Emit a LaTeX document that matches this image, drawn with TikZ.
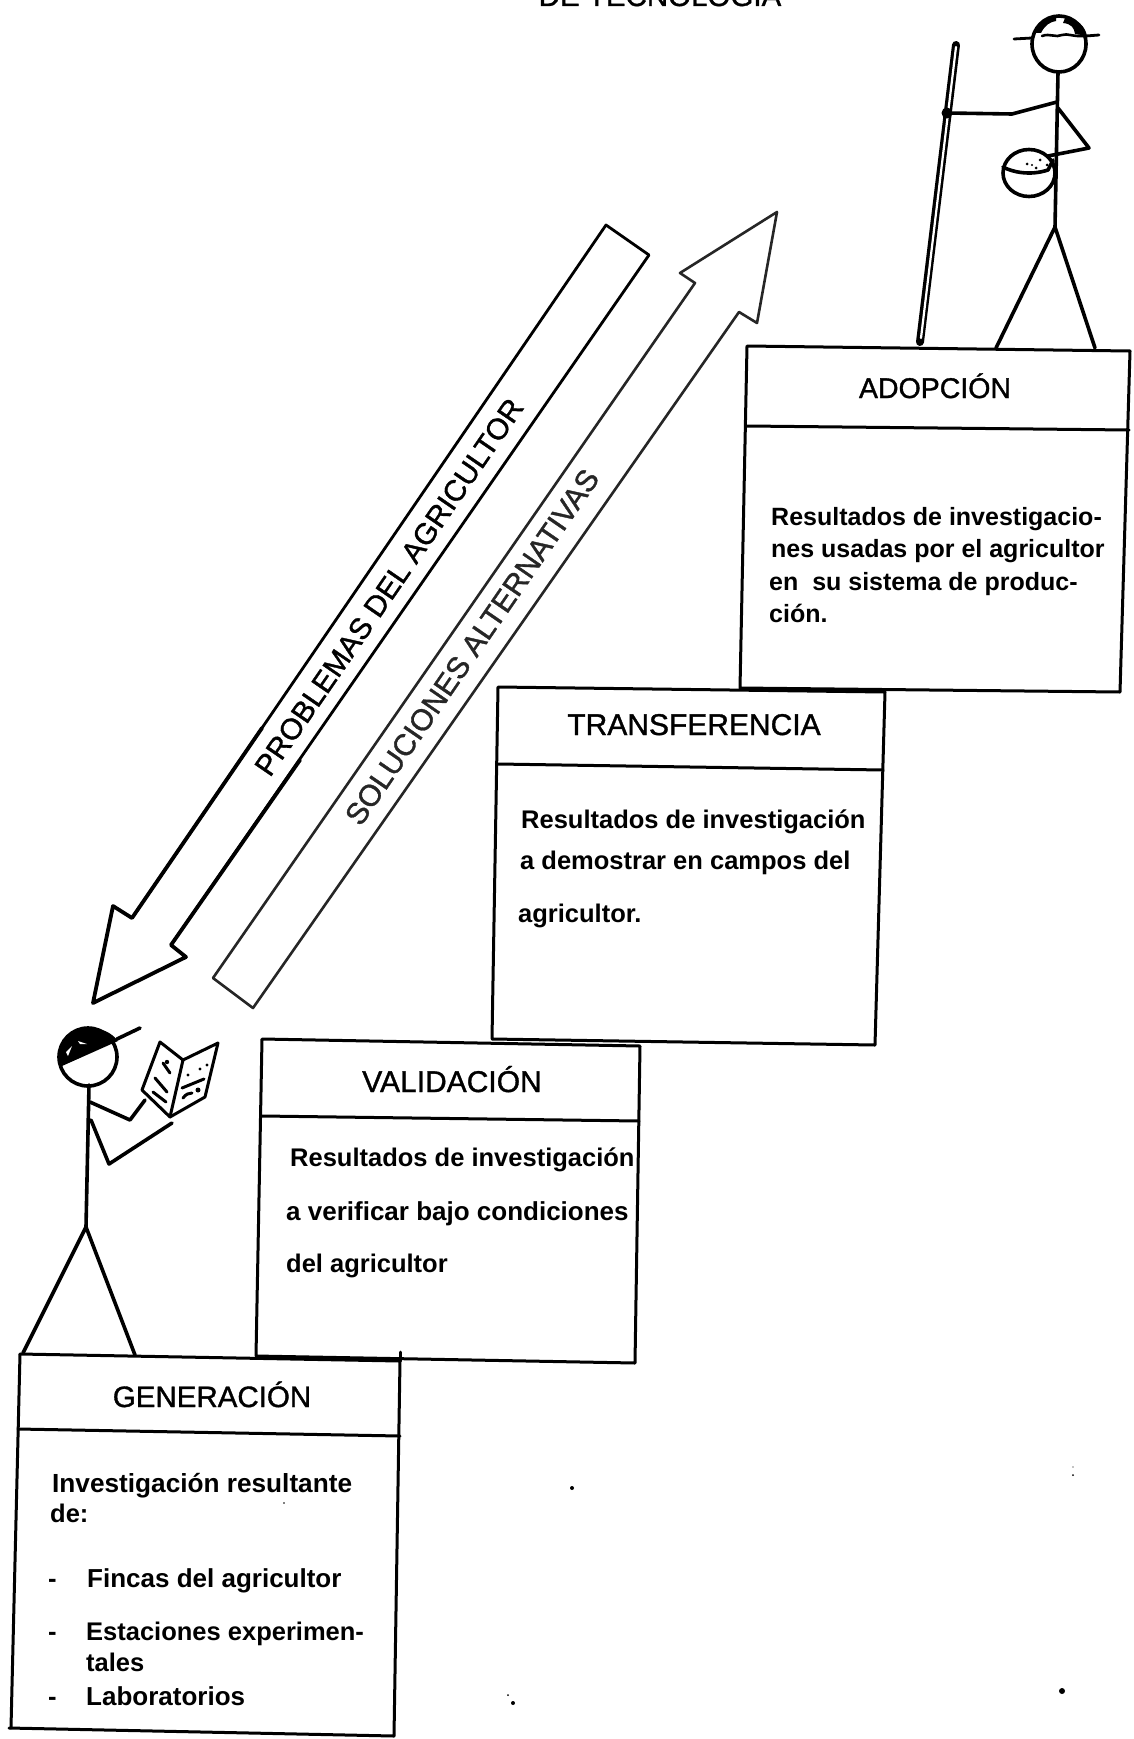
\documentclass[tikz,border=0pt]{standalone}
\usepackage{fontspec}
\setmainfont{Liberation Sans}
\newfontfamily\ttlfont[FakeBold=1.2]{Liberation Sans}
\tikzset{
  boxline/.style={line width=3pt,line join=round,line cap=round,black},
  figline/.style={line width=3.6pt,line join=round,line cap=round,black},
  arrowblack/.style={line width=3.8pt,line join=round,line cap=round,black},
  arrowshaft/.style={line width=2.8pt,line join=round,line cap=round,black},
  arrowgray/.style={line width=2.6pt,line join=round,line cap=round,black!85},
  ttl/.style={inner sep=0pt,anchor=base,font=\ttlfont\fontsize{#1}{30}\selectfont},
  txt/.style={inner sep=0pt,anchor=base west,font=\bfseries\fontsize{25.5}{28}\selectfont},
  slanted label/.style={inner sep=0pt,anchor=center,rotate=55.5,font=\ttlfont\fontsize{#1}{30}\selectfont},
}
\begin{document}
\begin{tikzpicture}[x=1pt,y=-1pt]
\useasboundingbox (0,0) rectangle (1134,1739);
\fill[white] (0,0) rectangle (1134,1739);

% cut-off heading
\node[ttl=29.5] (heading) at (660,6) {DE TECNOLOGIA};

% ADOPCION box
\draw[boxline] (747,346) -- (1130,351) -- (1120,692) -- (740,688) -- cycle;
\draw[boxline] (747,426) -- (1129,430);
\node[ttl=28.5] (adoptitle) at (935,398) {ADOPCIÓN};
\node[txt,font=\bfseries\fontsize{25}{28}\selectfont] (ad1) at (771,525) {Resultados de investigacio-};
\node[txt,font=\bfseries\fontsize{25}{28}\selectfont] (ad2) at (771,557) {nes usadas por el agricultor};
\node[txt,font=\bfseries\fontsize{25}{28}\selectfont] (ad3) at (769,590) {en\ \ su sistema de produc-};
\node[txt,font=\bfseries\fontsize{25}{28}\selectfont] (ad4) at (769,622) {ción.};

% TRANSFERENCIA box
\draw[boxline] (498,687) -- (885,692) -- (875,1045) -- (492,1039) -- cycle;
\draw[boxline] (498,764) -- (883,770);
\node[ttl=30] (trantitle) at (694,735) {TRANSFERENCIA};
\node[txt] (tr1) at (521,828) {Resultados de investigación};
\node[txt] (tr2) at (520,869) {a demostrar en campos del};
\node[txt] (tr3) at (518,922) {agricultor.};

% VALIDACION box
\draw[boxline] (262,1039) -- (640,1046) -- (635,1363) -- (256,1356) -- cycle;
\draw[boxline] (262,1116) -- (639,1121);
\node[ttl=30] (valtitle) at (452,1092) {VALIDACIÓN};
\node[txt] (va1) at (290,1166) {Resultados de investigación};
\node[txt,font=\bfseries\fontsize{26}{28}\selectfont] (va2) at (286,1220) {a verificar bajo condiciones};
\node[txt] (va3) at (286,1272) {del agricultor};

% GENERACION box
\draw[boxline] (20,1354) -- (400,1361) -- (394,1736) -- (9,1728);
\draw[boxline] (20,1354) -- (11,1728);
\draw[boxline] (400,1352) -- (400,1361);
\draw[boxline] (18,1429) -- (400,1436);
\node[ttl=29.5] (gentitle) at (212,1407) {GENERACIÓN};
\node[txt,font=\bfseries\fontsize{26.2}{28}\selectfont] (ge1) at (52,1492) {Investigación resultante};
\node[txt] (ge2) at (50,1522) {de:};
\node[txt] (gd1) at (48,1587) {-};
\node[txt,font=\bfseries\fontsize{26}{28}\selectfont] (ge3) at (87,1587) {Fincas del agricultor};
\node[txt] (gd2) at (48,1640) {-};
\node[txt] (ge4) at (86,1640) {Estaciones experimen-};
\node[txt] (ge5) at (86,1671) {tales};
\node[txt] (gd3) at (48,1705) {-};
\node[txt,font=\bfseries\fontsize{26}{28}\selectfont] (ge6) at (86,1705) {Laboratorios};

% problem arrow (down to the researcher)
\draw[arrowshaft] (132,918) -- (606,225) -- (649,255) -- (171,945);
\draw[arrowblack] (262,728) -- (132,918) -- (113,906) -- (93,1003) -- (186,957) -- (171,945) -- (300,760);
\node[slanted label=29.6] (prob) at (389,587) {PROBLEMAS DEL AGRICULTOR};

% solutions arrow (up to the farmer)
\draw[arrowgray] (213,978) -- (253,1008) -- (739,312) -- (757,323) -- (777,212) -- (680,273) -- (695,283) -- cycle;
\node[slanted label=30,text=black!85] (sol) at (472,647) {SOLUCIONES ALTERNATIVAS};

% farmer
\draw[figline] (1059,44) ellipse [x radius=27,y radius=28];
\fill (1065,18) .. controls (1078,19) and (1085,26) .. (1087,36) -- (1075,34) .. controls (1074,28) and (1072,24) .. (1063,23) -- cycle;
\fill (1034,33) .. controls (1037,24) and (1045,18) .. (1056,17) -- (1056,21) .. controls (1050,22) and (1045,25) .. (1041,33) -- cycle;
\draw[line width=2.6pt,line cap=round] (1042,36) .. controls (1050,33) and (1056,38) .. (1062,35) .. controls (1068,33) and (1072,37) .. (1086,36);
\draw[figline,line width=2.8pt] (1014,39) -- (1032,38);
\draw[figline,line width=2.8pt] (1086,36) -- (1099,35);
\draw[figline] (1058,72) -- (1055,227);
\draw[figline] (996,348) -- (1055,227) -- (1095,348);
\draw[figline] (1057,102) -- (1012,114) -- (947,113);
\draw[figline] (1058,108) -- (1089,148) -- (1048,156);
\draw[line width=8pt,line cap=round] (956,45) -- (920,342);
\draw[white,line width=2.2pt,line cap=round] (956,47) -- (921,338);
\fill (947,113) circle (5.5pt);
\fill[white] (1029,173) ellipse [x radius=26,y radius=23.5];
\draw[figline] (1029,173) ellipse [x radius=26,y radius=23.5];
\draw[figline] (1003,167) .. controls (1012,172) and (1030,176) .. (1048,170) -- (1053,160);
\fill (1027,164) circle (1.5pt) (1032,165) circle (1.2pt) (1036,168) circle (1.5pt) (1040,160) circle (1.5pt) (1047,165) circle (1.5pt);

% researcher
\draw[figline] (88,1057) circle (29pt);
\fill (62,1066) .. controls (52,1040) and (75,1027) .. (90,1028) .. controls (102,1028) and (112,1033) .. (118,1041) -- cycle;
\fill[white] (66,1052) -- (72,1046) -- (68,1056) -- cycle (78,1041) -- (87,1044) -- (80,1044) -- cycle;
\draw[figline] (117,1039) -- (140,1028);
\draw[figline] (89,1085) -- (86,1227);
\draw[figline] (23,1353) -- (86,1227) -- (135,1355);
\draw[figline] (90,1102) -- (130,1120) -- (145,1100);
\draw[figline] (91,1120) -- (109,1164) -- (172,1123);
\draw[figline,line width=3pt] (142,1090) -- (160,1042) -- (183,1060) -- (170,1117) -- cycle;
\draw[figline,line width=3pt] (183,1060) -- (218,1043) -- (205,1097) -- (170,1117);
\draw[figline,line width=3pt] (163,1063) -- (170,1073);
\draw[figline,line width=3pt] (155,1078) -- (167,1092);
\draw[figline,line width=3pt] (153,1092) -- (166,1102);
\draw[figline,line width=3pt] (182,1088) -- (204,1079);
\draw[figline,line width=3pt] (183,1098) .. controls (186,1094) and (189,1093) .. (192,1093);
\fill (167,1062) circle (2.2pt) (188,1075) circle (1.7pt) (200,1069) circle (1.7pt) (207,1065) circle (1.7pt) (198,1090) circle (2.5pt);

% specks
\fill (572,1488) circle (2pt) (513,1703) circle (2pt) (508,1695) circle (1pt) (1062,1691) circle (3pt) (1073,1475) circle (1pt) (1073,1467) circle (0.7pt) (284,1503) circle (0.8pt);
\end{tikzpicture}
\end{document}
